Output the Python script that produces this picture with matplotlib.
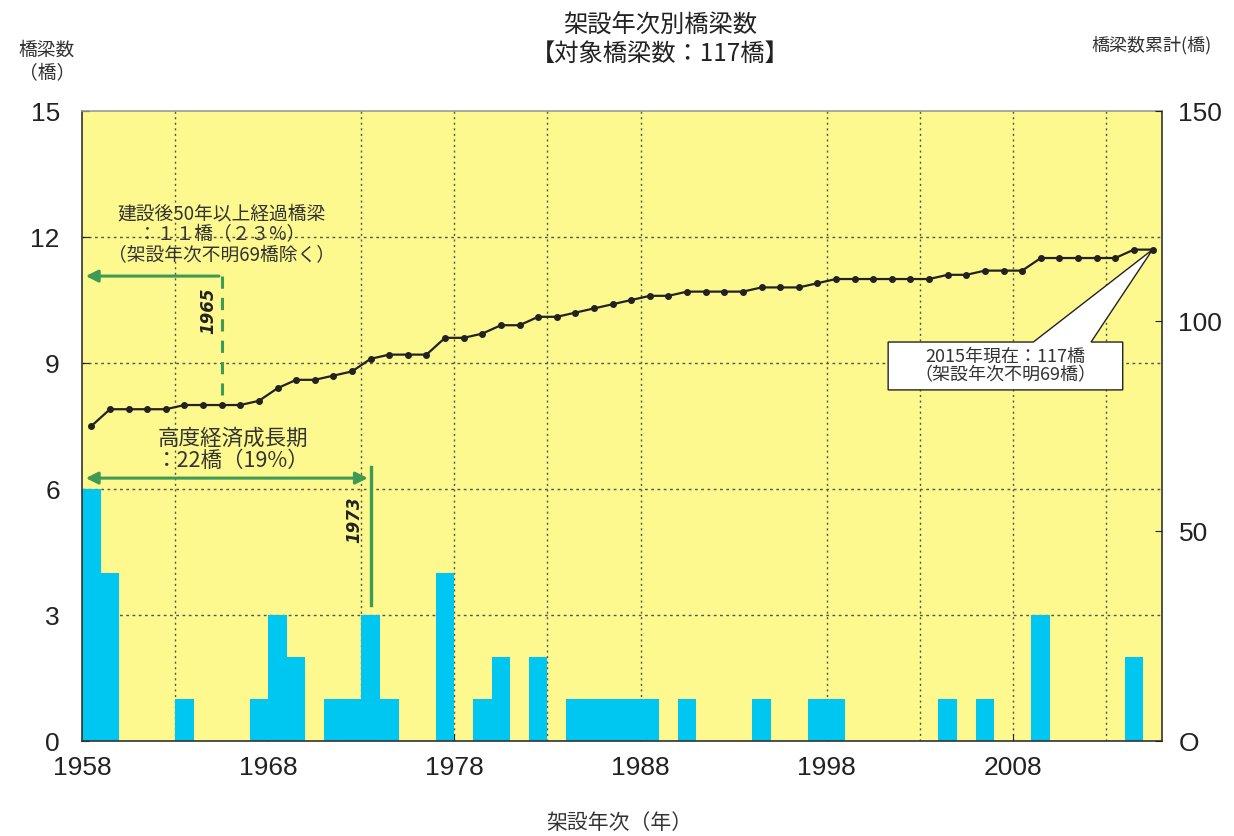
import matplotlib
matplotlib.use('agg')
import matplotlib.pyplot as plt
from matplotlib.patches import Polygon
import numpy as np

plt.rcParams['font.family'] = ['Noto Sans CJK JP', 'DejaVu Sans']

# bridges built per year (years with known build year)
years = np.arange(1958, 2016)
counts_by_year = {1958: 6, 1959: 4, 1963: 1, 1967: 1, 1968: 3, 1969: 2,
                  1971: 1, 1972: 1, 1973: 3, 1974: 1, 1977: 4, 1979: 1,
                  1980: 2, 1982: 2, 1984: 1, 1985: 1, 1986: 1, 1987: 1,
                  1988: 1, 1990: 1, 1994: 1, 1997: 1, 1998: 1, 2004: 1,
                  2006: 1, 2009: 3, 2014: 2}
counts = np.array([counts_by_year.get(y, 0) for y in years])
unknown_year = 69
cumulative = unknown_year + np.cumsum(counts)

xtick_years = [1958, 1968, 1978, 1988, 1998, 2008]
grid_years = [1963, 1973, 1978, 1983, 1988, 1998, 2003, 2008, 2013]
left_ticks = [0, 3, 6, 9, 12, 15]
right_ticks = [0, 50, 100, 150]

bg_color = '#fdf98e'
bar_color = '#00c6f2'
green = '#3f9a55'
text_gray = '#333333'
num_font = ['Liberation Sans', 'DejaVu Sans']

fig = plt.figure(figsize=(12.34, 8.36), dpi=100)
ax = fig.add_axes([0.0665, 0.1136, 0.875, 0.7536])
ax.set_facecolor(bg_color)

ax.bar(years, counts, width=1.0, align='edge', color=bar_color, zorder=2)

# dotted grid
for g in grid_years:
    ax.axvline(g, color='#555555', linestyle=(0, (1.5, 2.5)), linewidth=1, zorder=1)
for t in left_ticks[1:-1]:
    ax.axhline(t, color='#555555', linestyle=(0, (2, 2.5)), linewidth=1, zorder=1)

ax.set_xlim(1958, 2016)
ax.set_ylim(0, 15)
ax.set_xticks(xtick_years)
ax.set_yticks(left_ticks)
ax.tick_params(axis='both', direction='in', length=5, colors='#222222')
ax.tick_params(axis='y', pad=16)
ax.tick_params(axis='x', pad=11)
for lab in ax.get_xticklabels() + ax.get_yticklabels():
    lab.set_family(num_font)
    lab.set_fontsize(19)
for s in ax.spines.values():
    s.set_color('#333333')
    s.set_linewidth(1.2)
ax.spines['top'].set_color('#999999')

# cumulative line on right axis
ax2 = ax.twinx()
ax2.plot(years + 0.5, cumulative, color='#222222', linewidth=1.6, marker='o',
         markersize=4, zorder=5)
ax2.set_ylim(0, 150)
ax2.set_yticks(right_ticks)
ax2.set_yticklabels(['O', '50', '100', '150'])
ax2.tick_params(axis='y', direction='in', length=5, colors='#222222', pad=12)
for lab in ax2.get_yticklabels():
    lab.set_family(num_font)
    lab.set_fontsize(19)
for s in ax2.spines.values():
    s.set_visible(False)

# 50 years annotation
ax.annotate('', xy=(1958.05, 11.07), xytext=(1965.5, 11.07),
            arrowprops=dict(arrowstyle='-|>', color=green, lw=2.2, mutation_scale=18), zorder=6)
ax.plot([1965.5, 1965.5], [11.07, 8.24], color=green, linestyle=(0, (4, 3)), linewidth=2.2, zorder=6)
ax.text(1964.8, 10.24, '1965', rotation=90, ha='center', va='center', fontsize=12,
        fontstyle='italic', fontweight='bold', color='#222222', family=['DejaVu Sans'], zorder=7)
ax.text(1965.5, 12.05, '建設後50年以上経過橋梁\n：１１橋（２３%）\n（架設年次不明69橋除く）',
        ha='center', va='center', fontsize=13.5, color=text_gray, linespacing=1.0, zorder=7)

# high growth era annotation
ax.annotate('', xy=(1958.05, 6.26), xytext=(1973.5, 6.26),
            arrowprops=dict(arrowstyle='<|-|>', color=green, lw=2.2, mutation_scale=18), zorder=6)
ax.plot([1973.5, 1973.5], [6.52, 3.24], color=green, linewidth=2.4, zorder=6)
ax.text(1972.6, 5.26, '1973', rotation=90, ha='center', va='center', fontsize=12,
        fontstyle='italic', fontweight='bold', color='#222222', family=['DejaVu Sans'], zorder=7)
ax.text(1966.1, 6.93, '高度経済成長期\n：22橋（19%）', ha='center', va='center',
        fontsize=15.5, color=text_gray, linespacing=1.0, zorder=7)

# callout box for 2015
tip = (years[-1] + 0.5, cumulative[-1] / 10)
callout = Polygon([(2001.3, 8.36), (2013.9, 8.36), (2013.9, 9.5), (2012.2, 9.5), tip,
                   (2009.1, 9.5), (2001.3, 9.5)], closed=True, facecolor='white',
                  edgecolor='#222222', linewidth=1, zorder=8)
ax.add_patch(callout)
ax.text(2007.6, 8.93, '2015年現在：117橋\n（架設年次不明69橋）', ha='center', va='center',
        fontsize=13, color=text_gray, linespacing=1.05, zorder=9)

# titles and labels
fig.text(0.535, 0.952, '架設年次別橋梁数\n【対象橋梁数：117橋】', ha='center', va='center',
         fontsize=17.5, color='#222222', linespacing=1.1)
fig.text(0.038, 0.926, '橋梁数\n（橋）', ha='center', va='center', fontsize=13.5, color='#333333')
fig.text(0.933, 0.946, '橋梁数累計(橋)', ha='center', va='center', fontsize=13, color='#333333')
fig.text(0.502, 0.015, '架設年次（年）', ha='center', va='center', fontsize=15, color='#333333')

plt.savefig('out.png', dpi=100)
plt.close()
